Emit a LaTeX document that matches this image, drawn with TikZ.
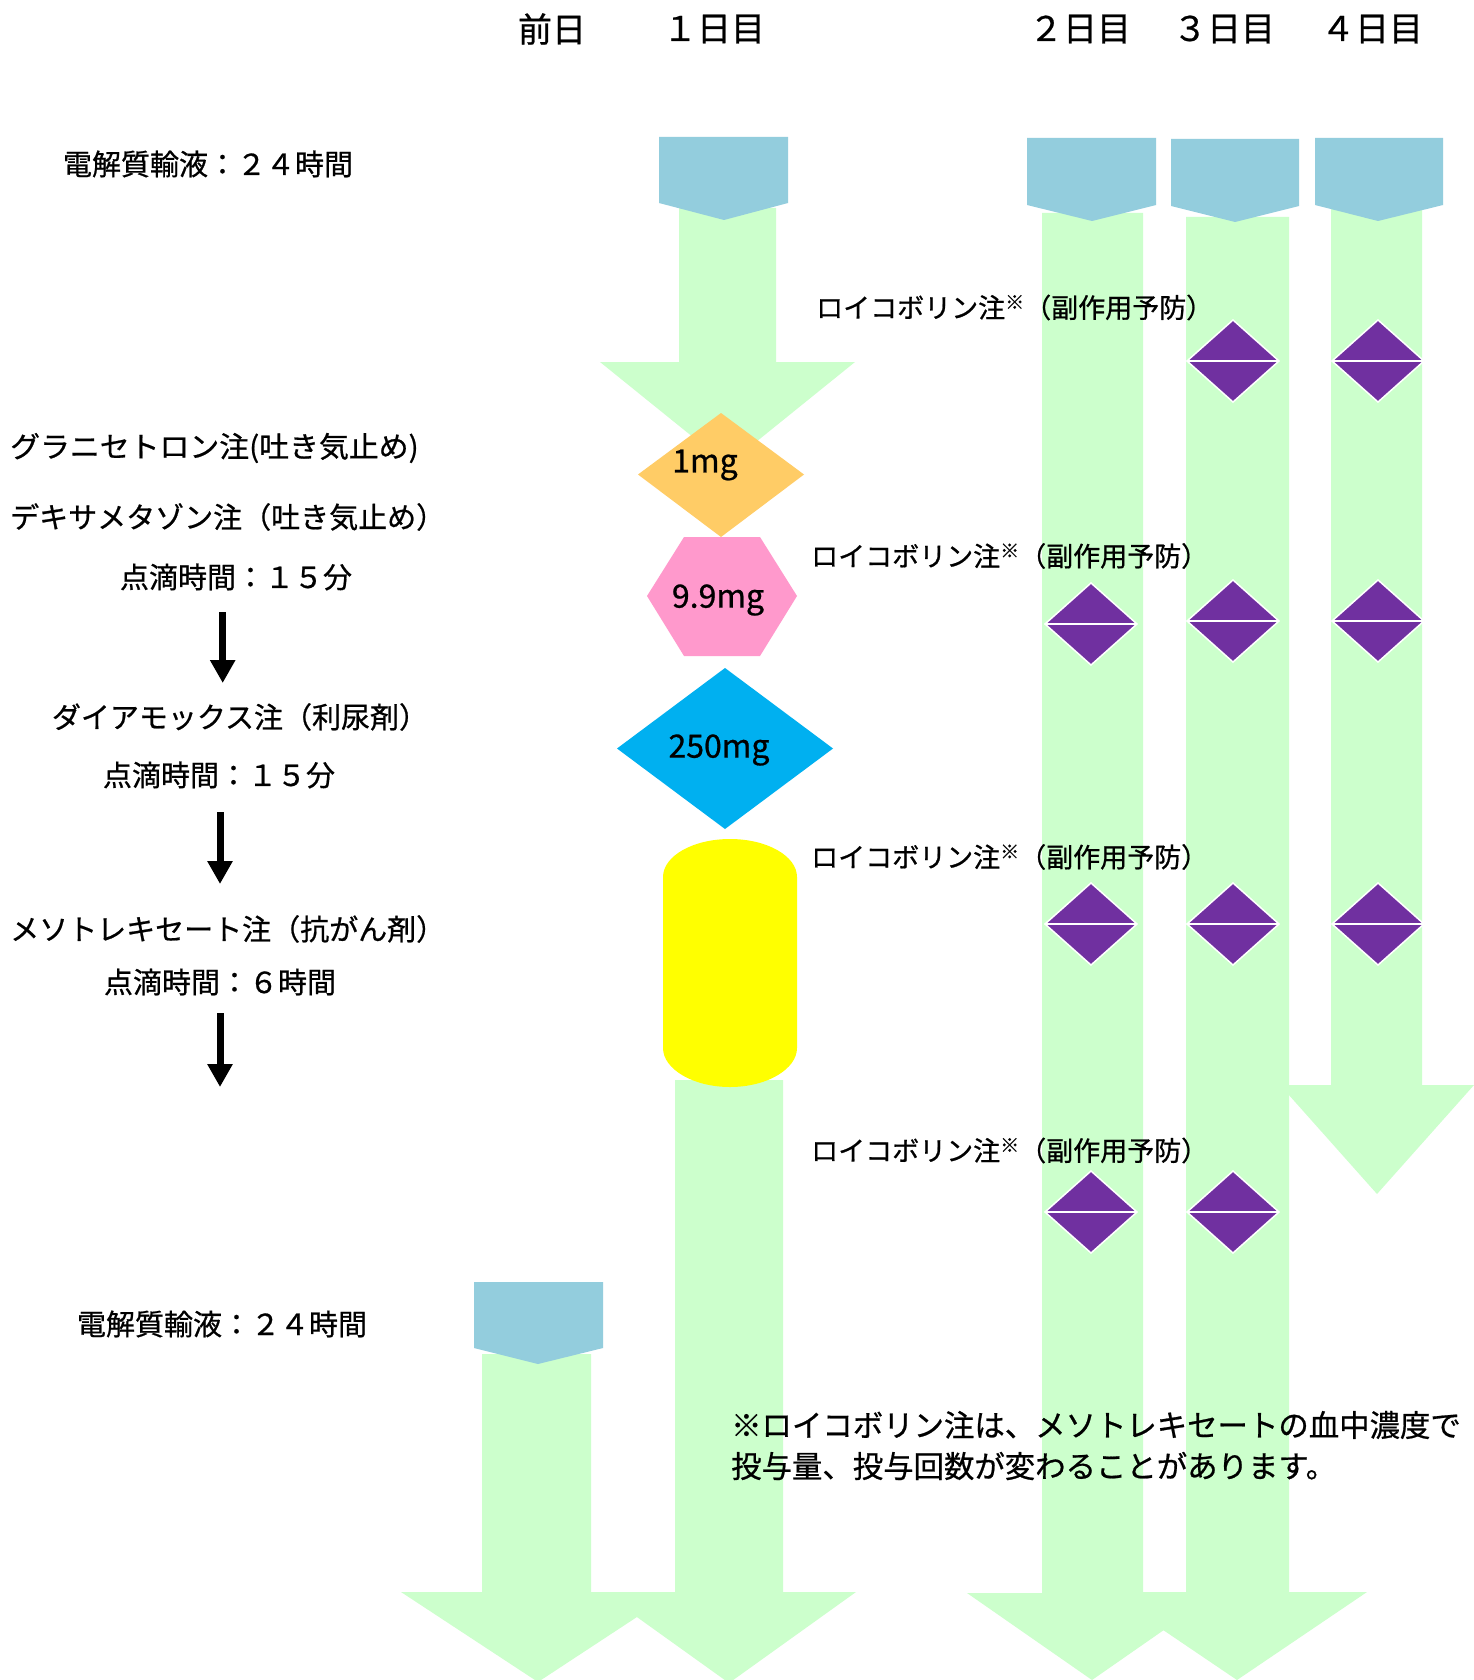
\documentclass[tikz,border=0pt]{standalone}
\usepackage{fontspec}
\newfontfamily\jp[FakeBold=0.7]{Noto Sans CJK JP}
\usetikzlibrary{arrows.meta}
\definecolor{greenC}{HTML}{CCFFCC}
\definecolor{blueC}{HTML}{93CDDD}
\definecolor{orangeC}{HTML}{FFCC66}
\definecolor{pinkC}{HTML}{FF99CC}
\definecolor{cyanC}{HTML}{00B0F0}
\definecolor{yellowC}{HTML}{FFFF00}
\definecolor{purpleC}{HTML}{7030A0}
\tikzset{
  gr/.style={fill=greenC, draw=none},
  bl/.style={fill=blueC, draw=none},
  hdr/.style={font=\jp\fontsize{34}{34}\selectfont, inner sep=0pt},
  lbl/.style={font=\jp\fontsize{29}{29}\selectfont, inner sep=0pt},
  leu/.style={font=\jp\fontsize{27}{27}\selectfont, inner sep=0pt, anchor=west},
  note/.style={font=\jp\fontsize{30.4}{30.4}\selectfont, inner sep=0pt, anchor=west},
  dose/.style={font=\jp\fontsize{32}{32}\selectfont, inner sep=0pt},
  blk/.style={line width=7pt, -{Triangle[width=24pt,length=23pt]}},
  pdia/.pic={
    \fill[purpleC, draw=white, line width=1.5pt] (-46,0) -- (0,-41) -- (46,0) -- (0,41) -- cycle;
    \draw[white, line width=1.5pt] (-46,0) -- (46,0);
  }
}
\newcommand{\leutext}{ロイコボリン注\raisebox{0.32em}{\fontsize{19}{19}\selectfont ※}（副作用予防）}
\begin{document}
\begin{tikzpicture}[x=1pt,y=-1pt]
\useasboundingbox (0,0) rectangle (1474,1680);
\fill[white] (0,0) rectangle (1474,1680);

% green arrows
\fill[gr] (679,208) -- (776,208) -- (776,362) -- (855,362) -- (727.5,465) -- (600,362) -- (679,362) -- cycle;
\fill[gr] (675,1080) -- (783,1080) -- (783,1592) -- (856,1592) -- (729,1683) -- (602,1592) -- (675,1592) -- cycle;
\fill[gr] (482,1354) -- (591,1354) -- (591,1592) -- (675,1592) -- (538,1682) -- (401,1592) -- (482,1592) -- cycle;
\fill[gr] (1042,213) -- (1143,213) -- (1143,1593) -- (1217,1593) -- (1092,1680) -- (967,1593) -- (1042,1593) -- cycle;
\fill[gr] (1186,217) -- (1289,217) -- (1289,1592) -- (1367,1592) -- (1237,1680) -- (1107,1592) -- (1186,1592) -- cycle;
\fill[gr] (1331,208) -- (1422,208) -- (1422,1085) -- (1474,1085) -- (1377,1194) -- (1280,1085) -- (1331,1085) -- cycle;

% blue pentagons
\fill[bl] (659,137) -- (788,137) -- (788,203) -- (724,220) -- (659,203) -- cycle;
\fill[bl] (1027,138) -- (1156,138) -- (1156,205) -- (1092,221) -- (1027,205) -- cycle;
\fill[bl] (1171,139) -- (1299,139) -- (1299,206) -- (1235,222) -- (1171,206) -- cycle;
\fill[bl] (1315,138) -- (1443,138) -- (1443,205) -- (1378,221) -- (1315,205) -- cycle;
\fill[bl] (474,1282) -- (603,1282) -- (603,1348) -- (538,1364) -- (474,1348) -- cycle;

% day-1 drug shapes
\fill[orangeC] (638,474.5) -- (721,413) -- (804,474.5) -- (721,537) -- cycle;
\fill[pinkC] (647,596) -- (684,537) -- (760,537) -- (797,596) -- (760,656) -- (684,656) -- cycle;
\fill[cyanC] (617,748.5) -- (725,668) -- (833,748.5) -- (725,829) -- cycle;
\fill[yellowC] (663,877) .. controls (663,856) and (693,839) .. (730,839)
  .. controls (767,839) and (797,856) .. (797,877) -- (797,1048)
  .. controls (797,1069) and (767,1087) .. (730,1087)
  .. controls (693,1087) and (663,1069) .. (663,1048) -- cycle;
\node[dose] (d1) at (705,465) {1mg};
\node[dose] (d2) at (718,600) {9.9mg};
\node[dose] (d3) at (719,750) {250mg};

% purple diamonds
\pic (r1c3) at (1233,361) {pdia};
\pic (r1c4) at (1378,361) {pdia};
\pic (r2c2) at (1091,624) {pdia};
\pic (r2c3) at (1233,621) {pdia};
\pic (r2c4) at (1378,621) {pdia};
\pic (r3c2) at (1091,924) {pdia};
\pic (r3c3) at (1233,924) {pdia};
\pic (r3c4) at (1378,924) {pdia};
\pic (r4c2) at (1091,1212) {pdia};
\pic (r4c3) at (1233,1212) {pdia};

% headers
\node[hdr] (h0) at (552,29) {前日};
\node[hdr] (h1) at (714,29) {１日目};
\node[hdr] (h2) at (1080,29) {２日目};
\node[hdr] (h3) at (1224,29) {３日目};
\node[hdr] (h4) at (1372,29) {４日目};

% left labels
\node[lbl] (e1) at (208,164) {電解質輸液：２４時間};
\node[lbl, anchor=west, xscale=1.03] (g) at (10,448) {グラニセトロン注(吐き気止め)};
\node[lbl, anchor=west] (dx) at (10,517) {デキサメタゾン注（吐き気止め）};
\node[lbl] (t1) at (236,577) {点滴時間：１５分};
\node[lbl] (dm) at (240,717) {ダイアモックス注（利尿剤）};
\node[lbl] (t2) at (219,775) {点滴時間：１５分};
\node[lbl, anchor=west] (mt) at (10,929) {メソトレキセート注（抗がん剤）};
\node[lbl] (t3) at (220,982) {点滴時間：６時間};
\node[lbl] (e2) at (222,1324) {電解質輸液：２４時間};

\coordinate (a1s) at (222.7,612);
\coordinate (a1e) at (222.7,683);
\coordinate (a2s) at (220,812);
\coordinate (a2e) at (220,884);
\coordinate (a3s) at (220,1013);
\coordinate (a3e) at (220,1087);
\draw[blk] (a1s) -- (a1e);
\draw[blk] (a2s) -- (a2e);
\draw[blk] (a3s) -- (a3e);

% leucovorin labels
\node[leu] (l1) at (816,307.5) {\leutext};
\node[leu] (l2) at (811,556) {\leutext};
\node[leu] (l3) at (811,857) {\leutext};
\node[leu] (l4) at (811,1150.5) {\leutext};

% footnote
\node[note] (n1) at (731,1425) {※ロイコボリン注は、メソトレキセートの血中濃度で};
\node[note] (n2) at (731,1466) {投与量、投与回数が変わることがあります。};
\end{tikzpicture}
\end{document}
